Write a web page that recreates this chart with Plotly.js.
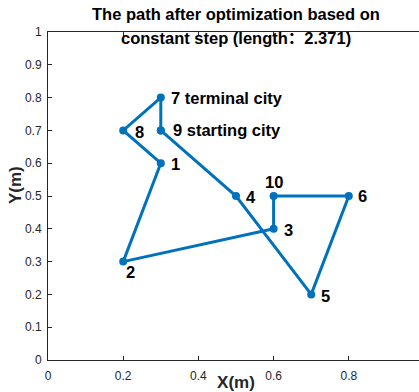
<!DOCTYPE html>
<html>
<head>
<meta charset="utf-8">
<script src="https://cdn.plot.ly/plotly-3.0.1.min.js"></script>
<style>
  html, body { margin: 0; padding: 0; overflow: hidden; background: #fff; }
  #chart { width: 425px; height: 392px; }
</style>
</head>
<body>
<div id="chart"></div>
<script>
// City coordinates (m), indexed by city number 1..10
const cityIds = [1, 2, 3, 4, 5, 6, 7, 8, 9, 10];
const cityX = [0.3, 0.2, 0.6, 0.5, 0.7, 0.8, 0.3, 0.2, 0.3, 0.6];
const cityY = [0.6, 0.3, 0.4, 0.5, 0.2, 0.5, 0.8, 0.7, 0.7, 0.5];
const cityLabels = ['1', '2', '3', '4', '5', '6', '7 terminal city', '8', '9 starting city', '10'];

// Visiting order of the optimized tour
const tourOrder = [9, 4, 5, 6, 10, 3, 2, 1, 8, 7, 9];
const tourLength = 2.371;

const xTicks = [0, 0.2, 0.4, 0.6, 0.8, 1];
const yTicks = [0, 0.1, 0.2, 0.3, 0.4, 0.5, 0.6, 0.7, 0.8, 0.9, 1];

// Label placement offsets in pixels [dx, dy, xanchor]
const labelShift = {
  1: [8, 1, 'left'], 2: [1, 10, 'left'], 3: [8, 1, 'left'], 4: [8, 1, 'left'],
  5: [8, 2, 'left'], 6: [7, 0, 'left'], 7: [8, 0, 'left'], 8: [10, 2, 'left'],
  9: [10, 0, 'left'], 10: [0, -14, 'center']
};

const idx = id => cityIds.indexOf(id);
const pathX = tourOrder.map(id => cityX[idx(id)]);
const pathY = tourOrder.map(id => cityY[idx(id)]);

const blue = '#0072BD';
const axisColor = '#262626';
const baseFamily = 'Arial, "Liberation Sans", "Noto Sans CJK SC", sans-serif';

const trace = {
  x: pathX, y: pathY, type: 'scatter', mode: 'lines+markers',
  line: { color: blue, width: 3 },
  marker: { color: blue, size: 8 },
  hoverinfo: 'skip'
};

const annotations = cityIds.map((id, i) => ({
  x: cityX[i], y: cityY[i], xref: 'x', yref: 'y',
  text: cityLabels[i], showarrow: false,
  xanchor: labelShift[id][2], yanchor: 'middle',
  xshift: labelShift[id][0], yshift: -labelShift[id][1],
  font: { family: baseFamily, size: 16.5, color: '#000', weight: 'bold' }
}));

const titleFont = { family: baseFamily, size: 16.5, color: '#000', weight: 'bold' };
annotations.push({
  xref: 'paper', yref: 'paper', x: 0.5, y: 1, yshift: 18, yanchor: 'middle',
  text: 'The path after optimization based on', showarrow: false, font: titleFont
});
annotations.push({
  xref: 'paper', yref: 'paper', x: 0.5, y: 1, yshift: -6, yanchor: 'middle',
  text: 'constant step (length：' + tourLength.toFixed(3) + ')', showarrow: false, font: titleFont
});

const tickFont = { family: baseFamily, size: 12, color: axisColor };
const axTitleFont = { family: baseFamily, size: 17, color: axisColor, weight: 'bold' };

// Y axis title placed beside the tick labels
annotations.push({
  xref: 'paper', yref: 'paper', x: 0, y: 0.5, xshift: -33, yshift: 11,
  xanchor: 'center', yanchor: 'middle', textangle: -90,
  text: 'Y(m)', showarrow: false, font: axTitleFont
});

const layout = {
  width: 425, height: 392,
  margin: { l: 48, r: 1, t: 32, b: 32 },
  paper_bgcolor: '#fff', plot_bgcolor: '#fff',
  showlegend: false,
  xaxis: {
    range: [0, 1], tickvals: xTicks, ticktext: xTicks.map(String),
    ticks: 'inside', ticklen: 4, tickcolor: axisColor, tickwidth: 1,
    showline: true, linecolor: axisColor, linewidth: 1, mirror: 'ticks',
    showgrid: false, zeroline: false, tickfont: tickFont, ticklabelstandoff: 5,
    title: { text: 'X(m)', font: axTitleFont, standoff: -4 }
  },
  yaxis: {
    range: [0, 1], tickvals: yTicks, ticktext: yTicks.map(String),
    ticks: 'inside', ticklen: 4, tickcolor: axisColor, tickwidth: 1,
    showline: true, linecolor: axisColor, linewidth: 1, mirror: 'ticks',
    showgrid: false, zeroline: false, tickfont: tickFont, ticklabelstandoff: 3
  },
  annotations: annotations
};

Plotly.newPlot('chart', [trace], layout, { displayModeBar: false, staticPlot: true });
</script>
</body>
</html>
